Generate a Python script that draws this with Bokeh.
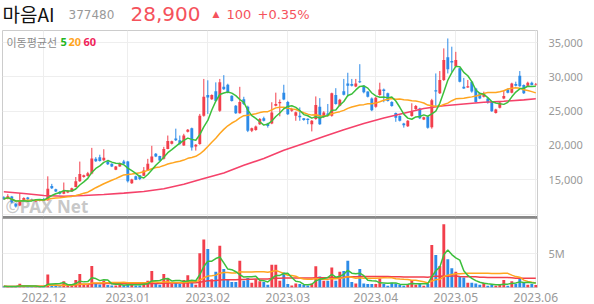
import pandas as pd
from bokeh.plotting import figure
from bokeh.layouts import column
from bokeh.models import Range1d, FixedTicker, Span
from bokeh.core.properties import value
from bokeh.embed import file_html
from bokeh.resources import INLINE

# ---------------- data ----------------
opens = [12450, 12250, 12550, 11500, 11250, 12050, 12400, 12150, 11850, 11900,
         12200, 12000, 14100, 13600, 13250, 12950, 13150, 13300, 13950, 14800,
         15400, 15550, 15900, 18050, 18300, 17850, 17650, 17350, 16450, 16950,
         17650, 17650, 14500, 15500, 15650, 15600, 16350, 17550, 18800, 18450,
         18050, 19500, 20250, 21000, 20750, 20000, 22000, 22500, 19850, 20200,
         24350, 27350, 26750, 27900, 25050, 28550, 28850, 27250, 25800, 24700,
         26750, 25650, 22150, 22250, 23100, 23950, 23200, 23200, 25800, 26150,
         27700, 26350, 25050, 24350, 24350, 23950, 23900, 23100, 23850, 25650,
         24200, 24650, 24350, 27350, 25800, 27900, 29050, 28950, 28600, 29350,
         28700, 27850, 26850, 25650, 27350, 28150, 27600, 26350, 24750, 24300,
         23200, 22800, 24300, 25300, 25400, 23800, 24200, 22650, 28050, 27600,
         29550, 32850, 32300, 31500, 31250, 28550, 28450, 29300, 28300, 27600,
         27100, 26850, 26350, 24750, 25500, 26850, 28150, 27700, 28950, 30150,
         28800, 28700, 29150, 28800]
highs = [12600, 12900, 12650, 11600, 13050, 12450, 12500, 12250, 12050, 12100,
         12350, 15500, 14400, 13700, 13350, 14600, 13500, 13850, 15400, 17650,
         15750, 16150, 19650, 18300, 18650, 19450, 17900, 17400, 17000, 17500,
         17900, 17750, 15150, 15600, 15700, 16850, 18050, 19950, 18900, 18500,
         19800, 21450, 20700, 22450, 21450, 21700, 22400, 22600, 20200, 24600,
         29700, 29500, 27450, 29200, 29700, 30250, 29000, 27300, 25900, 28550,
         27100, 25800, 22600, 22900, 24000, 24200, 23300, 26300, 27700, 26700,
         28850, 26500, 25500, 24950, 25550, 24000, 23950, 23700, 27150, 26900,
         25000, 26050, 27700, 28350, 26800, 29700, 30600, 29700, 29700, 31850,
         28800, 27900, 27000, 27100, 29150, 28300, 27700, 26450, 24800, 24400,
         23300, 23700, 26150, 25900, 25500, 24200, 24300, 26800, 30500, 30850,
         34150, 35600, 34400, 33650, 31300, 29850, 29550, 29400, 28400, 27700,
         27850, 26950, 26450, 25350, 26350, 28050, 28300, 29150, 29300, 30850,
         28900, 29300, 29300, 29100]
lows = [12050, 12150, 11550, 10950, 11150, 11950, 12050, 11900, 11800, 11850,
        11950, 11950, 13650, 13200, 12850, 12900, 13050, 13250, 13900, 14700,
        15300, 15450, 15800, 17600, 17650, 17750, 17150, 16850, 16400, 16900,
        17250, 14600, 14400, 14950, 14950, 15550, 16300, 17500, 18300, 17750,
        17950, 19450, 20150, 20650, 20100, 19950, 21900, 19250, 19250, 20100,
        24200, 24600, 26650, 26400, 24900, 28100, 27600, 26400, 24600, 24650,
        25900, 21950, 21950, 22150, 23000, 23500, 22600, 23100, 25700, 24250,
        26600, 24450, 24900, 23600, 23600, 23600, 23100, 22050, 23750, 23000,
        24000, 24200, 24200, 25950, 25700, 27300, 27100, 28600, 28500, 29100,
        27600, 27000, 25000, 25500, 27250, 26300, 26400, 25650, 23450, 23500,
        22600, 22700, 24200, 25200, 23850, 23700, 22450, 22450, 25650, 27500,
        29400, 30500, 30700, 31400, 29200, 28250, 28400, 27700, 26250, 26750,
        27000, 26100, 24900, 24650, 25400, 26750, 27600, 27600, 28600, 28550,
        27500, 28600, 28750, 28700]
closes = [12200, 12600, 11700, 11100, 12000, 12350, 12150, 12000, 12000, 12050,
          12000, 13700, 13750, 13300, 12950, 13400, 13400, 13750, 14800, 15850,
          15650, 15950, 18100, 17700, 17750, 18200, 17250, 16950, 16950, 17450,
          17350, 14800, 15050, 15000, 15100, 16350, 17350, 18400, 18400, 17800,
          19500, 20650, 20600, 20750, 20250, 21450, 22300, 19700, 20100, 24350,
          27100, 27000, 27350, 26500, 29200, 28200, 27750, 26500, 24700, 26350,
          26050, 22150, 22500, 22750, 23850, 23600, 22850, 24800, 26050, 26350,
          26700, 24550, 25300, 24850, 24100, 23700, 23700, 23600, 25900, 23100,
          24800, 24350, 27600, 26050, 26650, 27400, 28700, 28700, 29050, 29200,
          27750, 27100, 25150, 26950, 28150, 27950, 26500, 25750, 24050, 23600,
          22950, 23600, 24900, 25750, 23950, 24100, 22600, 26600, 27850, 29550,
          32450, 31100, 32100, 32450, 29300, 28300, 28650, 27850, 26350, 26850,
          27600, 26250, 25000, 25250, 26250, 27200, 27700, 29050, 28700, 28650,
          27600, 29150, 28800, 28900]
volumes_m = [0.20, 0.12, 0.15, 0.15, 0.55, 0.15, 0.12, 0.10, 0.10, 0.10,
             0.15, 1.90, 0.35, 0.25, 0.20, 0.90, 0.30, 0.40, 1.10, 1.95,
             0.35, 0.50, 3.15, 0.55, 0.45, 1.00, 0.35, 0.30, 0.30, 0.40,
             0.30, 0.65, 0.40, 0.30, 0.30, 0.80, 1.00, 2.40, 0.50, 0.40,
             1.95, 1.30, 0.60, 0.80, 0.50, 1.10, 1.80, 1.10, 0.40, 5.00,
             7.00, 5.60, 1.20, 2.30, 6.10, 2.70, 1.10, 0.80, 0.80, 3.90,
             1.00, 1.40, 0.70, 1.20, 0.90, 0.80, 0.40, 3.30, 3.30, 1.00,
             2.20, 0.50, 0.30, 0.60, 0.50, 0.35, 0.30, 0.60, 3.10, 1.60,
             1.00, 1.00, 2.90, 1.00, 2.30, 2.40, 3.90, 0.80, 0.60, 2.70,
             0.60, 0.50, 0.50, 0.50, 1.30, 0.50, 0.25, 0.70, 0.60, 0.40,
             0.25, 0.50, 1.10, 0.40, 0.50, 0.25, 0.50, 6.20, 4.75, 3.15,
             9.20, 4.10, 2.80, 2.30, 1.55, 1.45, 0.70, 0.70, 0.60, 0.40,
             0.70, 0.25, 0.35, 0.25, 0.50, 1.10, 0.25, 0.90, 0.50, 1.35,
             0.70, 0.40, 0.50, 0.35]
# 60-day price moving average at these candle positions
ma60_idx = [0, 5, 10, 15, 20, 25, 30, 35, 40, 45, 50, 55, 60, 65, 70, 75, 80,
            85, 90, 95, 100, 105, 110, 115, 120, 125, 130, 133]
ma60_val = [13250, 13000, 12700, 12600, 12700, 12850, 13050, 13300, 13700, 14350,
            15200, 16000, 17100, 18100, 19300, 20300, 21300, 22300, 23200, 24000,
            24700, 25400, 25800, 26050, 26300, 26450, 26650, 26800]
month_idx = [10, 31, 51, 71, 93, 113, 133]
month_labels = ["2022.12", "2023.01", "2023.02", "2023.03", "2023.04", "2023.05", "2023.06"]
price_ticks = [10000, 15000, 20000, 25000, 30000, 35000]
price_labels = ["", "15,000", "20,000", "25,000", "30,000", "35,000"]
vol_ticks = [5]
vol_labels = ["5M"]

# ---------------- styling ----------------
RED = "#f23f4c"
BLUE = "#2d8be8"
GREEN = "#3cbf3c"
ORANGE = "#ffa51f"
CRIMSON = "#f5426a"
HEAD_RED = "#f5525c"
GRID = "#eeeeee"
FONT = "Noto Sans"
KFONT = "Noto Sans CJK KR"
DFONT = "DejaVu Sans"

n = len(closes)
idx = list(range(n))
up = [c >= o for o, c in zip(opens, closes)]
colors = [RED if u else BLUE for u in up]
tops = [max(o, c) for o, c in zip(opens, closes)]
bots = [min(o, c) for o, c in zip(opens, closes)]
ma5 = pd.Series(closes).rolling(5, min_periods=1).mean().tolist()
ma20 = pd.Series(closes).rolling(20, min_periods=1).mean().tolist()
vs = pd.Series(volumes_m)
vma5 = vs.rolling(5, min_periods=1).mean().tolist()
vma20 = vs.rolling(20, min_periods=1).mean().tolist()
vma60 = vs.rolling(60, min_periods=1).mean().tolist()

X0, X1 = -0.325, 133.425
P_MIN, P_MAX = 9500, 36760
V_MAX = 10.2
LB, RB = 2, 57

# ---------------- header (frame shares the panels' borders; data x = page pixel) ----------------
h = figure(width=594, height=30, x_range=Range1d(LB, 594 - RB), y_range=Range1d(30, 0),
           output_backend="svg", toolbar_location=None,
           x_axis_location=None, y_axis_location=None,
           min_border_left=LB, min_border_right=RB, min_border_top=0, min_border_bottom=0)
h.outline_line_color = None
h.grid.grid_line_color = None
h.text(x=[2], y=[13], text=["마음AI"], text_font=value(KFONT), text_font_size="19px",
       text_color="#111111", text_baseline="middle")
h.text(x=[68], y=[14], text=["377480"], text_font=value(DFONT), text_font_size="12px",
       text_color="#999999", text_baseline="middle")
h.text(x=[130], y=[13], text=["28,900"], text_font=value(DFONT), text_font_size="20px",
       text_color=HEAD_RED, text_baseline="middle")
h.text(x=[212], y=[13], text=["▲"], text_font=value(DFONT), text_font_size="9px",
       text_color=HEAD_RED, text_baseline="middle")
h.text(x=[226], y=[14], text=["100"], text_font=value(DFONT), text_font_size="13px",
       text_color=HEAD_RED, text_baseline="middle")
h.text(x=[257], y=[14], text=["+0.35%"], text_font=value(DFONT), text_font_size="13px",
       text_color=HEAD_RED, text_baseline="middle")

# ---------------- price panel ----------------
p = figure(width=594, height=187, x_range=Range1d(X0, X1), y_range=Range1d(P_MIN, P_MAX),
           output_backend="svg", toolbar_location=None,
           x_axis_location=None, y_axis_location="right",
           min_border_left=LB, min_border_right=RB, min_border_top=0, min_border_bottom=0)
p.outline_line_color = "#cccccc"
p.xgrid.ticker = FixedTicker(ticks=month_idx)
p.grid.grid_line_color = GRID
p.yaxis.ticker = FixedTicker(ticks=price_ticks)
p.yaxis.major_label_overrides = dict(zip(price_ticks, price_labels))
p.yaxis.axis_line_color = None
p.yaxis.major_tick_line_color = None
p.yaxis.minor_tick_line_color = None
p.yaxis.major_label_standoff = 5
p.yaxis.major_label_text_color = "#999999"
p.yaxis.major_label_text_font = FONT
p.yaxis.major_label_text_font_size = "11px"

def fx(px):
    return X0 + (px - LB) / 4.0

def fy(py):
    return P_MAX - (py - 30) / 187.0 * (P_MAX - P_MIN)

p.text(x=[fx(5)], y=[fy(206)], text=["©PAX Net"], text_font=value(FONT),
       text_font_size="17px", text_font_style="bold", text_color="#b0b0b0",
       text_alpha=0.7, text_baseline="middle")

p.segment(x0=idx, y0=lows, x1=idx, y1=highs, line_color=colors, line_width=1)
p.vbar(x=idx, width=0.72, top=tops, bottom=bots, fill_color=colors, line_color=None)
p.line(ma60_idx, ma60_val, line_color=CRIMSON, line_width=1.6)
p.line(idx, ma20, line_color=ORANGE, line_width=1.5)
p.line(idx, ma5, line_color=GREEN, line_width=1.5)
p.add_layout(Span(location=P_MIN, dimension="width", line_color="#444444", line_width=2))

p.text(x=[fx(6)], y=[fy(41)], text=["이동평균선"], text_font=value(KFONT), text_font_size="11px",
       text_color="#8c8c8c", text_baseline="middle")
p.text(x=[fx(60)], y=[fy(41)], text=["5"], text_font=value(FONT), text_font_size="11px",
       text_font_style="bold", text_color="#22b522", text_baseline="middle")
p.text(x=[fx(68)], y=[fy(41)], text=["20"], text_font=value(FONT), text_font_size="11px",
       text_font_style="bold", text_color=ORANGE, text_baseline="middle")
p.text(x=[fx(83)], y=[fy(41)], text=["60"], text_font=value(FONT), text_font_size="11px",
       text_font_style="bold", text_color="#f0245a", text_baseline="middle")

# ---------------- volume panel ----------------
v = figure(width=594, height=87, x_range=p.x_range, y_range=Range1d(0, V_MAX),
           output_backend="svg", toolbar_location=None,
           x_axis_location="below", y_axis_location="right",
           min_border_left=LB, min_border_right=RB, min_border_top=0, min_border_bottom=17)
v.outline_line_color = "#cccccc"
v.grid.grid_line_color = GRID
v.xaxis.ticker = FixedTicker(ticks=month_idx)
v.xaxis.major_label_overrides = dict(zip(month_idx, month_labels))
v.yaxis.ticker = FixedTicker(ticks=vol_ticks)
v.yaxis.major_label_overrides = dict(zip(vol_ticks, vol_labels))
for ax in (v.xaxis, v.yaxis):
    ax.axis_line_color = None
    ax.major_tick_line_color = None
    ax.minor_tick_line_color = None
    ax.major_label_text_color = "#999999"
    ax.major_label_text_font = FONT
v.xaxis.major_label_text_font_size = "12px"
v.yaxis.major_label_text_font_size = "11px"
v.xaxis.major_label_standoff = -1
v.yaxis.major_label_standoff = 5

v.vbar(x=idx, width=0.72, top=volumes_m, bottom=0, fill_color=colors, line_color=None)
v.line(idx, vma60, line_color=RED, line_width=1.5)
v.line(idx, vma20, line_color=ORANGE, line_width=1.5)
v.line(idx, vma5, line_color=GREEN, line_width=1.5)
v.add_layout(Span(location=V_MAX, dimension="width", line_color="#444444", line_width=2))

layout = column(h, p, v, spacing=0)
open("out.html", "w").write(file_html(layout, INLINE))
